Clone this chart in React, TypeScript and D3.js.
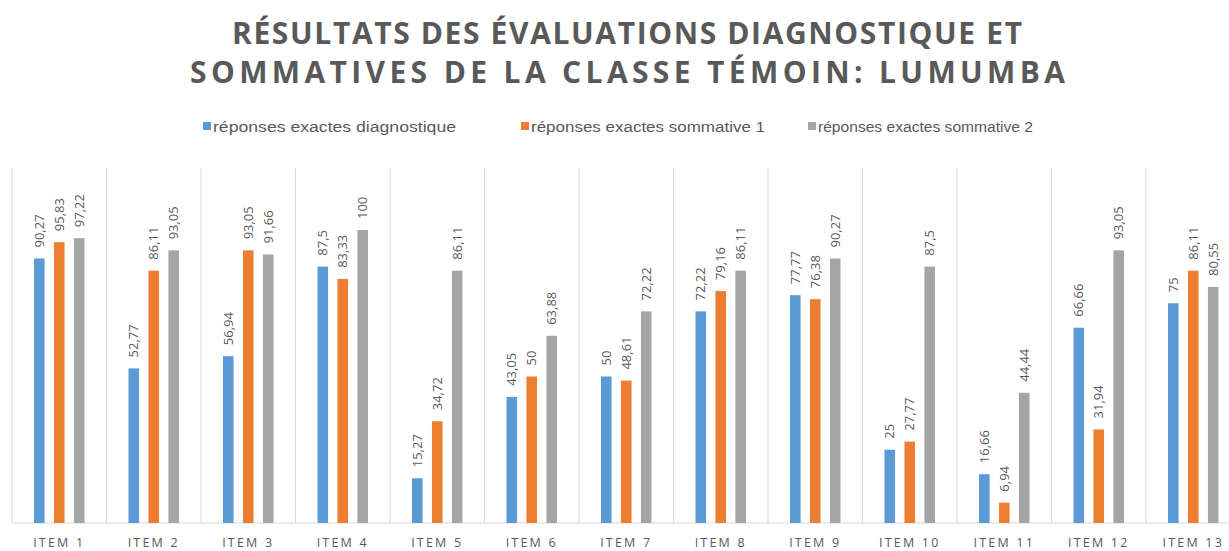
import React from "react";
import * as d3 from "d3";

const categories = ["ITEM 1","ITEM 2","ITEM 3","ITEM 4","ITEM 5","ITEM 6","ITEM 7","ITEM 8","ITEM 9","ITEM 10","ITEM 11","ITEM 12","ITEM 13"];
const diagnostique = [90.27,52.77,56.94,87.5,15.27,43.05,50,72.22,77.77,25,16.66,66.66,75];
const sommative1 = [95.83,86.11,93.05,83.33,34.72,50,48.61,79.16,76.38,27.77,6.94,31.94,86.11];
const sommative2 = [97.22,93.05,91.66,100,86.11,63.88,72.22,86.11,90.27,87.5,44.44,93.05,80.55];
const seriesNames = ["réponses exactes diagnostique","réponses exactes sommative 1","réponses exactes sommative 2"];
const colors = ["#5b9bd5","#ed7d31","#a5a5a5"];

const W = 1229, H = 551;
const left = 12, step = 94.5;
const baseY = 523, topY = 168;

export default function App() {
  const series = [diagnostique, sommative1, sommative2];
  const x = d3.scaleBand<string>().domain(categories).range([left, left + step * categories.length]).paddingInner(0).paddingOuter(0);
  const inner = d3.scaleBand<number>().domain([0,1,2]).range([22, step - 22]).paddingInner(0.47).paddingOuter(0);
  const y = d3.scaleLinear().domain([0, 100]).range([baseY, baseY - 293]);
  const fmt = (v: number) => String(v).replace(".", ",");
  const legendX = [203, 521, 808];
  return (
    <svg width={W} height={H} style={{ position: "absolute", left: 0, top: 0, background: "#fff" }}>
      <rect width={W} height={H} fill="#fff" />
      <g fontFamily="'Open Sans', sans-serif" fontWeight={700} fontSize={30} fill="#595959">
        <text x={232} y={44} textLength={790} lengthAdjust="spacing">RÉSULTATS DES ÉVALUATIONS DIAGNOSTIQUE ET</text>
        <text x={190} y={83} textLength={875} lengthAdjust="spacing">SOMMATIVES DE LA CLASSE TÉMOIN: LUMUMBA</text>
      </g>
      <g fontFamily="'Liberation Sans', sans-serif" fontSize={14} fill="#595959">
        {seriesNames.map((n, i) => (
          <g key={n}>
            <rect x={legendX[i]} y={122} width={8} height={8} fill={colors[i]} />
            <text x={legendX[i] + 10} y={132} textLength={i === 0 ? 243 : i === 1 ? 234 : 215} lengthAdjust="spacingAndGlyphs">{n}</text>
          </g>
        ))}
      </g>
      {categories.map((c) => (
        <line key={"g" + c} x1={x(c)!} x2={x(c)!} y1={topY} y2={baseY} stroke="#d9d9d9" strokeWidth={1} />
      ))}
      <line x1={left} x2={W} y1={baseY} y2={baseY} stroke="#d9d9d9" strokeWidth={1} />
      {categories.map((c, i) => (
        <g key={c}>
          {series.map((s, k) => {
            const bx = x(c)! + inner(k)!;
            const bw = inner.bandwidth();
            const ty = y(s[i]);
            const cx = bx + bw / 2;
            return (
              <g key={k}>
                <rect x={bx} y={ty} width={bw} height={baseY - ty} fill={colors[k]} />
                <text transform={`translate(${cx + 4.5},${ty - 11}) rotate(-90)`} fontFamily="'Open Sans', sans-serif" fontSize={13} fill="#595959">{fmt(s[i])}</text>
              </g>
            );
          })}
          <text x={x(c)! + step / 2} y={546.5} textAnchor="middle" fontFamily="'Open Sans', sans-serif" fontSize={12.5} fill="#595959" letterSpacing={2.2}>{c}</text>
        </g>
      ))}
    </svg>
  );
}
